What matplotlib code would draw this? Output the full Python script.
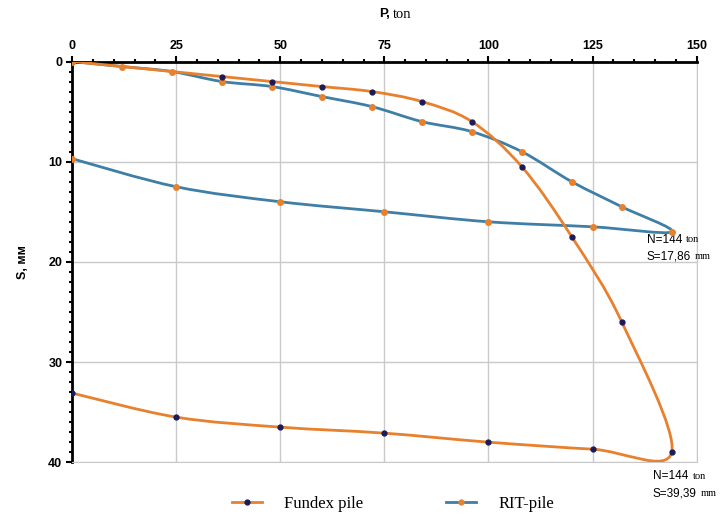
import numpy as np
import matplotlib
matplotlib.use("Agg")
import matplotlib.pyplot as plt
from matplotlib.path import Path
from matplotlib.patches import PathPatch
from matplotlib.lines import Line2D
from matplotlib.ticker import MultipleLocator

# load P (ton) and settlement S (mm): loading then unloading branch
fundex_p = [0, 12, 24, 36, 48, 60, 72, 84, 96, 108, 120, 132, 144, 125, 100, 75, 50, 25, 0]
fundex_s = [0, 0.5, 1.0, 1.5, 2.0, 2.5, 3.0, 4.0, 6.0, 10.5, 17.5, 26.0, 39.0, 38.7, 38.0, 37.1, 36.5, 35.5, 33.1]

rit_p = [0, 12, 24, 36, 48, 60, 72, 84, 96, 108, 120, 132, 144, 125, 100, 75, 50, 25, 0]
rit_s = [0, 0.5, 1.0, 2.0, 2.5, 3.5, 4.5, 6.0, 7.0, 9.0, 12.0, 14.5, 17.0, 16.5, 16.0, 15.0, 14.0, 12.5, 9.7]

x_ticks = [0, 25, 50, 75, 100, 125, 150]
y_ticks = [0, 10, 20, 30, 40]

ORANGE = "#e8812e"
NAVY = "#1b1b5a"
BLUE = "#3f7fa6"
SANS = "Liberation Sans"
SERIF = "Liberation Serif"


def smooth_path(xs, ys):
    # excel-like smoothed line (cubic bezier through the points)
    pts = np.column_stack([xs, ys]).astype(float)
    n = len(pts)
    verts = [pts[0]]
    codes = [Path.MOVETO]
    for i in range(n - 1):
        p0 = pts[i - 1] if i > 0 else pts[i]
        p1 = pts[i]
        p2 = pts[i + 1]
        p3 = pts[i + 2] if i + 2 < n else pts[i + 1]
        verts += [p1 + (p2 - p0) / 6, p2 - (p3 - p1) / 6, p2]
        codes += [Path.CURVE4] * 3
    return Path(verts, codes)


fig = plt.figure(figsize=(7.28, 5.17), dpi=100)
ax = fig.add_axes([0.099, 0.106, 0.858, 0.775])

ax.set_xlim(0, 150)
ax.set_ylim(40, 0)

for xv in x_ticks[1:]:
    ax.axvline(xv, color="#c9c9c9", lw=1, zorder=0)
for yv in y_ticks[1:]:
    ax.axhline(yv, color="#c9c9c9", lw=1, zorder=0)

ax.add_patch(PathPatch(smooth_path(rit_p, rit_s), fc="none", ec=BLUE, lw=2, zorder=2))
ax.add_patch(PathPatch(smooth_path(fundex_p, fundex_s), fc="none", ec=ORANGE, lw=2, zorder=3))
ax.plot(rit_p, rit_s, ls="none", marker="o", ms=4, color=ORANGE, zorder=4)
ax.plot(fundex_p[3:], fundex_s[3:], ls="none", marker="o", ms=3.5, color=NAVY, zorder=5)

# axes look
ax.xaxis.tick_top()
ax.set_xticks(x_ticks)
ax.set_yticks(y_ticks)
ax.xaxis.set_minor_locator(MultipleLocator(5))
ax.yaxis.set_minor_locator(MultipleLocator(1))
ax.tick_params(which="major", length=4, width=1.5, direction="out", pad=3)
ax.tick_params(which="minor", length=2.5, width=1.5, direction="out")
for lab in ax.get_xticklabels() + ax.get_yticklabels():
    lab.set_fontfamily(SANS)
    lab.set_fontweight("bold")
    lab.set_fontsize(9)
ax.spines["top"].set_linewidth(2)
ax.spines["left"].set_linewidth(2)
ax.spines["right"].set_color("#c9c9c9")
ax.spines["bottom"].set_color("#c9c9c9")

# axis titles
fig.text(0.535, 0.972, "P,", family=SANS, weight="bold", fontsize=9.5, ha="right", va="center")
fig.text(0.539, 0.972, "ton", family=SERIF, fontsize=10.5, ha="left", va="center")
fig.text(0.032, 0.493, "S, мм", family=SANS, weight="bold", fontsize=9,
         rotation=90, ha="center", va="center")

# annotations
def note(x, y, a, unit):
    t = ax.text(x, y, a, family=SANS, fontsize=8.5, ha="left", va="center", clip_on=False)
    ax.annotate(unit, xy=(1, 0.5), xycoords=t, xytext=(3, 0), textcoords="offset points",
                family=SERIF, fontsize=7.5, ha="left", va="center", annotation_clip=False)

note(138.0, 17.8, "N=144", "ton")
note(138.0, 19.5, "S=17,86", "mm")
note(139.5, 41.4, "N=144", "ton")
note(139.5, 43.1, "S=39,39", "mm")

handles = [
    Line2D([], [], color=ORANGE, lw=2, marker="o", ms=3.5, mfc=NAVY, mec=NAVY),
    Line2D([], [], color=BLUE, lw=2, marker="o", ms=3.5, mfc=ORANGE, mec=ORANGE),
]
fig.legend(handles, ["Fundex pile", "RIT-pile"], loc="center", bbox_to_anchor=(0.54, 0.025),
           ncol=2, frameon=False, prop={"family": SERIF, "size": 12},
           handlelength=1.8, columnspacing=5.0, handletextpad=1.3)

fig.savefig("out.png", dpi=100)
